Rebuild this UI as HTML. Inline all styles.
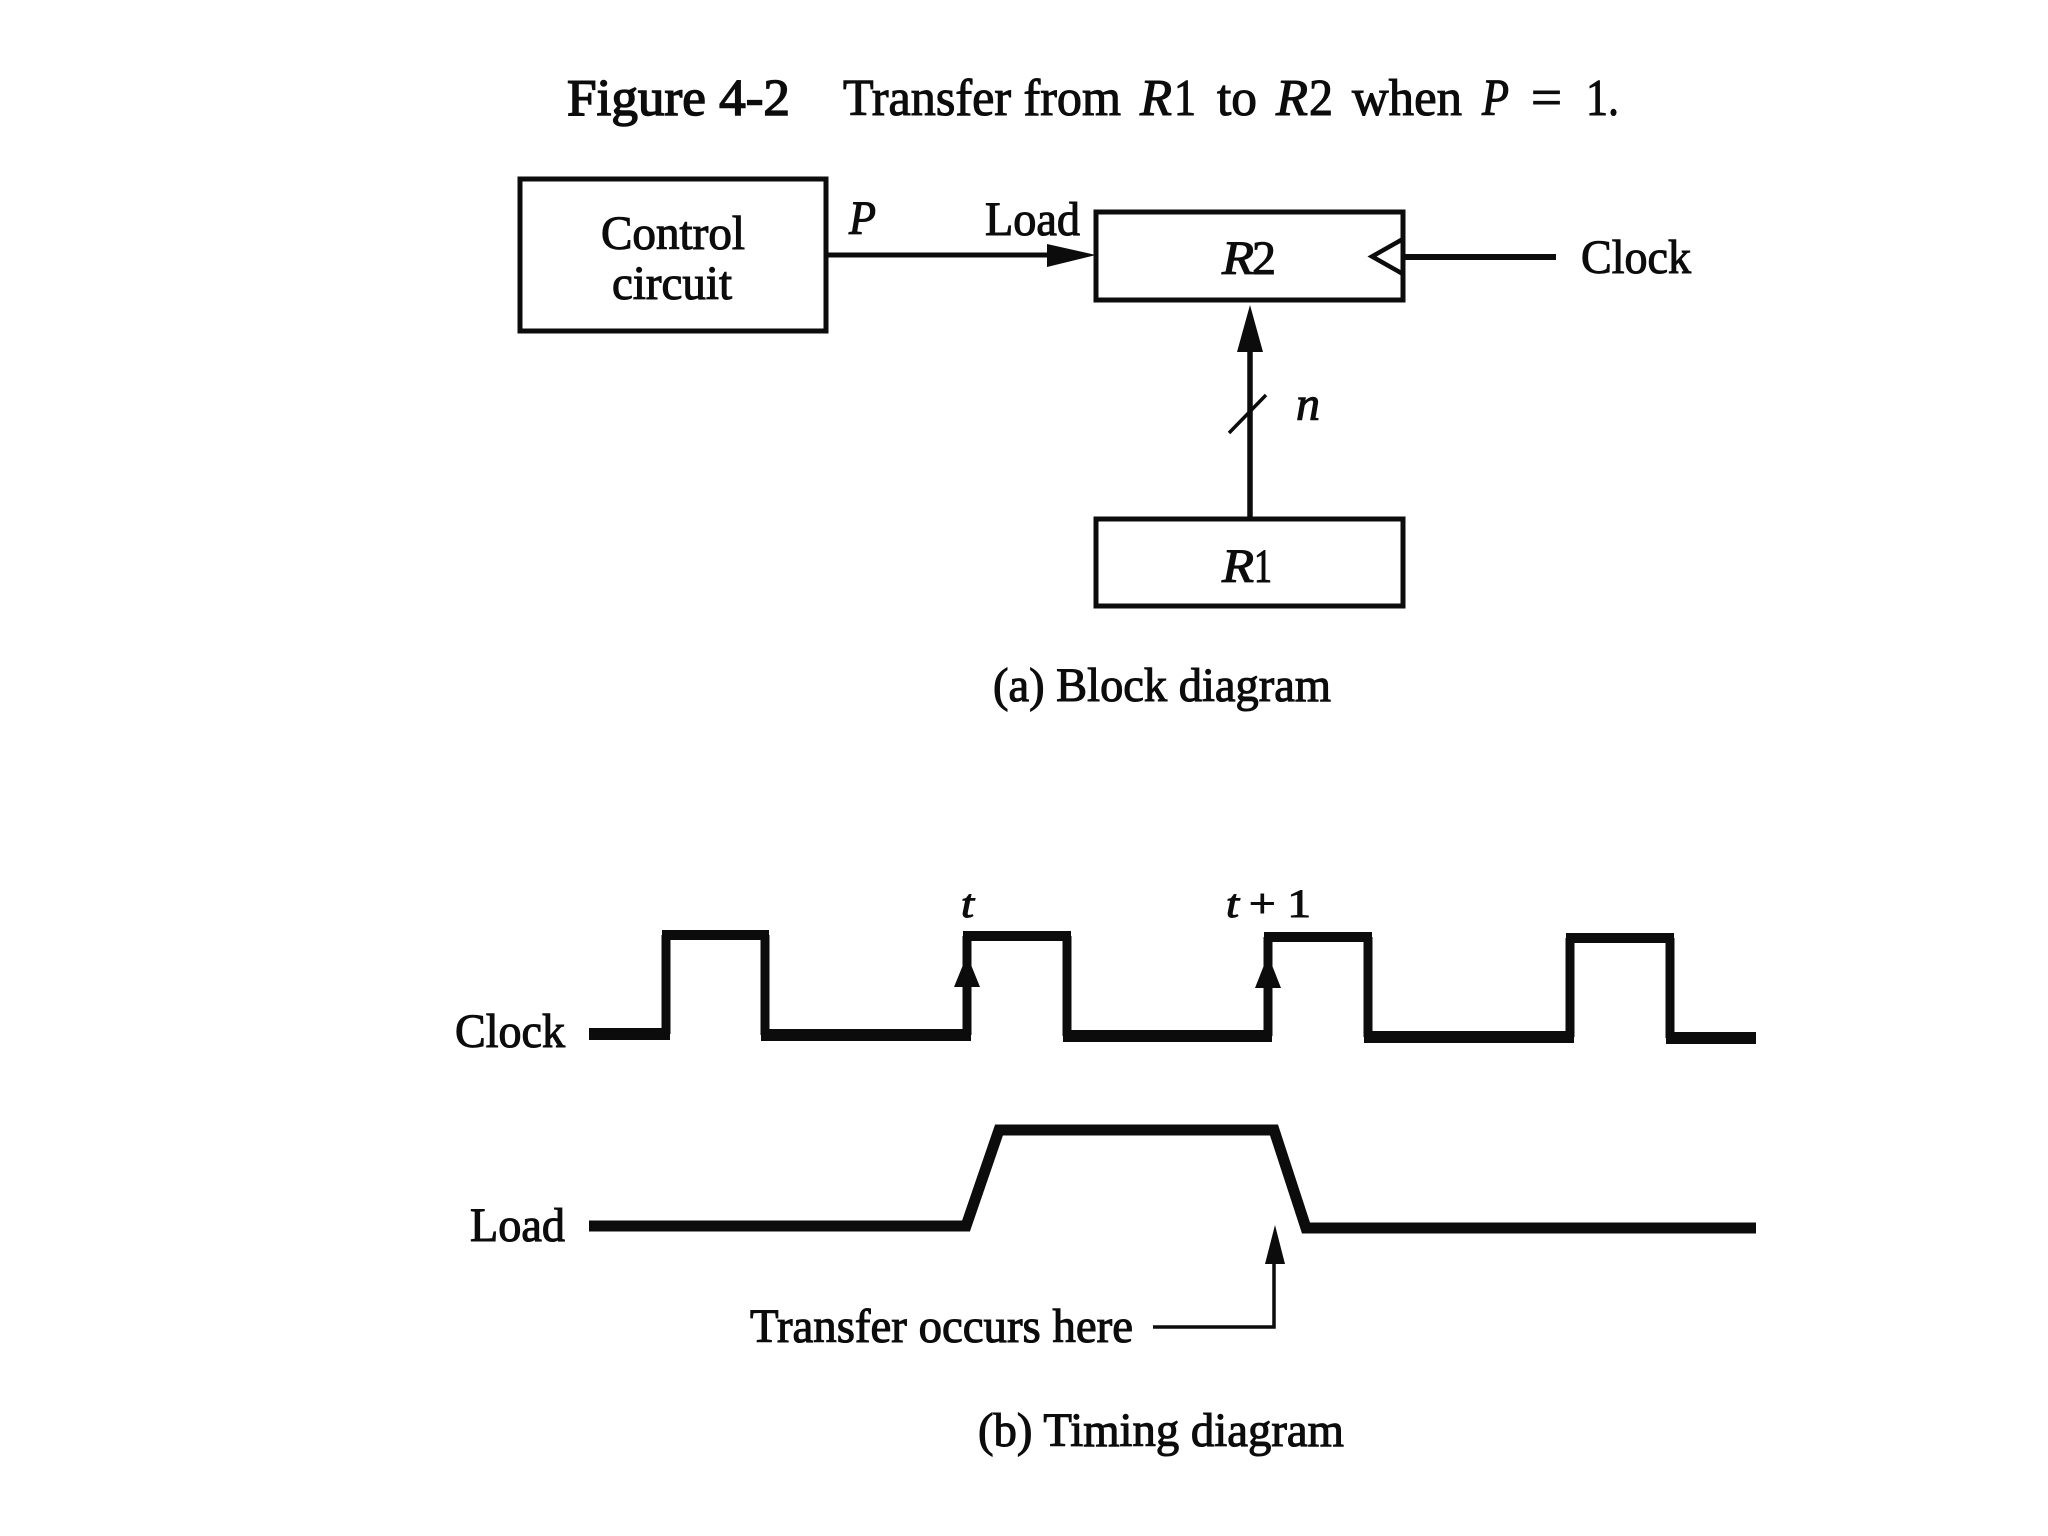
<!DOCTYPE html>
<html><head><meta charset="utf-8"><title>Figure 4-2</title>
<style>
html,body{margin:0;padding:0;background:#fff}
svg{display:block}
text{font-family:"Liberation Serif",serif;fill:#0c0c0c;stroke:#0c0c0c;stroke-width:1.1;font-size:48px}
.i{font-style:italic}
.t{font-size:52px}
</style></head><body>
<svg width="2048" height="1536" viewBox="0 0 2048 1536" xmlns="http://www.w3.org/2000/svg">
<rect width="2048" height="1536" fill="#fff"/>
<g>
<text class="t" x="567" y="115" textLength="223" lengthAdjust="spacingAndGlyphs" style="stroke-width:1.5">Figure 4-2</text>
<text class="t" x="843" y="115" textLength="278" lengthAdjust="spacingAndGlyphs">Transfer from</text>
<text class="t i" x="1140" y="115" textLength="32" lengthAdjust="spacingAndGlyphs">R</text>
<text class="t" x="1174" y="115" textLength="22" lengthAdjust="spacingAndGlyphs">1</text>
<text class="t" x="1217" y="115" textLength="40" lengthAdjust="spacingAndGlyphs">to</text>
<text class="t i" x="1276" y="115" textLength="32" lengthAdjust="spacingAndGlyphs">R</text>
<text class="t" x="1309" y="115" textLength="24" lengthAdjust="spacingAndGlyphs">2</text>
<text class="t" x="1352" y="115" textLength="110" lengthAdjust="spacingAndGlyphs">when</text>
<text class="t i" x="1482" y="115" textLength="27" lengthAdjust="spacingAndGlyphs">P</text>
<text class="t" x="1531" y="115" textLength="31" lengthAdjust="spacingAndGlyphs">=</text>
<text class="t" x="1586" y="115" textLength="33" lengthAdjust="spacingAndGlyphs">1.</text>

<text x="601" y="249" textLength="144" lengthAdjust="spacingAndGlyphs">Control</text>
<text x="612" y="299" textLength="120" lengthAdjust="spacingAndGlyphs">circuit</text>
<text class="i" x="849" y="234" textLength="27" lengthAdjust="spacingAndGlyphs">P</text>
<text x="985" y="235" textLength="95" lengthAdjust="spacingAndGlyphs">Load</text>
<text class="i" x="1222" y="274" textLength="32" lengthAdjust="spacingAndGlyphs">R</text>
<text class="" x="1252" y="274" textLength="24" lengthAdjust="spacingAndGlyphs">2</text>
<text x="1581" y="273" textLength="110" lengthAdjust="spacingAndGlyphs">Clock</text>
<text class="i" x="1296" y="420" textLength="24" lengthAdjust="spacingAndGlyphs">n</text>
<text class="i" x="1222" y="582" textLength="32" lengthAdjust="spacingAndGlyphs">R</text>
<text x="1254" y="582" textLength="18" lengthAdjust="spacingAndGlyphs">1</text>
<text x="993" y="701" textLength="338" lengthAdjust="spacingAndGlyphs">(a) Block diagram</text>

<text class="i" x="961" y="917" style="font-size:40px" textLength="13" lengthAdjust="spacingAndGlyphs">t</text>
<text class="i" x="1226" y="917" style="font-size:40px" textLength="13" lengthAdjust="spacingAndGlyphs">t</text>
<text x="1249" y="917" style="font-size:40px" textLength="62" lengthAdjust="spacingAndGlyphs">+ 1</text>
<text x="455" y="1047" textLength="110" lengthAdjust="spacingAndGlyphs">Clock</text>
<text x="470" y="1241" textLength="95" lengthAdjust="spacingAndGlyphs">Load</text>
<text x="750" y="1342" textLength="383" lengthAdjust="spacingAndGlyphs">Transfer occurs here</text>
<text x="978" y="1446" textLength="366" lengthAdjust="spacingAndGlyphs">(b) Timing diagram</text>
</g>

<g fill="none" stroke="#0c0c0c" stroke-width="5">
<rect x="520" y="179" width="306" height="152"/>
<rect x="1096" y="212" width="307" height="88"/>
<rect x="1096" y="519" width="307" height="87"/>
<path d="M826 255H1060"/>
<path d="M1403 257H1556" stroke-width="6"/>
<path d="M1250 519V345" stroke-width="5.5"/>
<path d="M1229 433L1266 395" stroke-width="3.5"/>
<path d="M1403 239L1372 256.5L1403 274" stroke-width="4.5"/>
</g>
<path d="M1096 255L1047 244V267Z" fill="#0c0c0c"/>
<path d="M1250 305L1237 352H1263Z" fill="#0c0c0c"/>

<g fill="none" stroke="#0c0c0c" stroke-linejoin="miter">
<path stroke-width="9" d="M666 1034V935M765 935V1035M967 1035V936M1067 936V1036M1268 1036V937M1368 937V1037M1570 1037V938M1670 938V1038"/>
<path stroke-width="12" d="M589 1034H670M761 1035H971M1063 1036H1272M1364 1037H1574M1666 1038H1756"/>
<path stroke-width="10" d="M662 935H769M963 936H1071M1264 937H1372M1566 938H1674"/>
<path stroke-width="11" d="M589 1226H966L999 1130H1274L1306 1228H1756"/>
<path stroke-width="3.5" d="M1153 1327H1274V1255"/>
</g>
<path d="M967 955L954 987H980Z" fill="#0c0c0c"/>
<path d="M1268 955L1255 988H1281Z" fill="#0c0c0c"/>
<path d="M1275 1225L1265 1264H1285Z" fill="#0c0c0c"/>
</svg>
</body></html>
